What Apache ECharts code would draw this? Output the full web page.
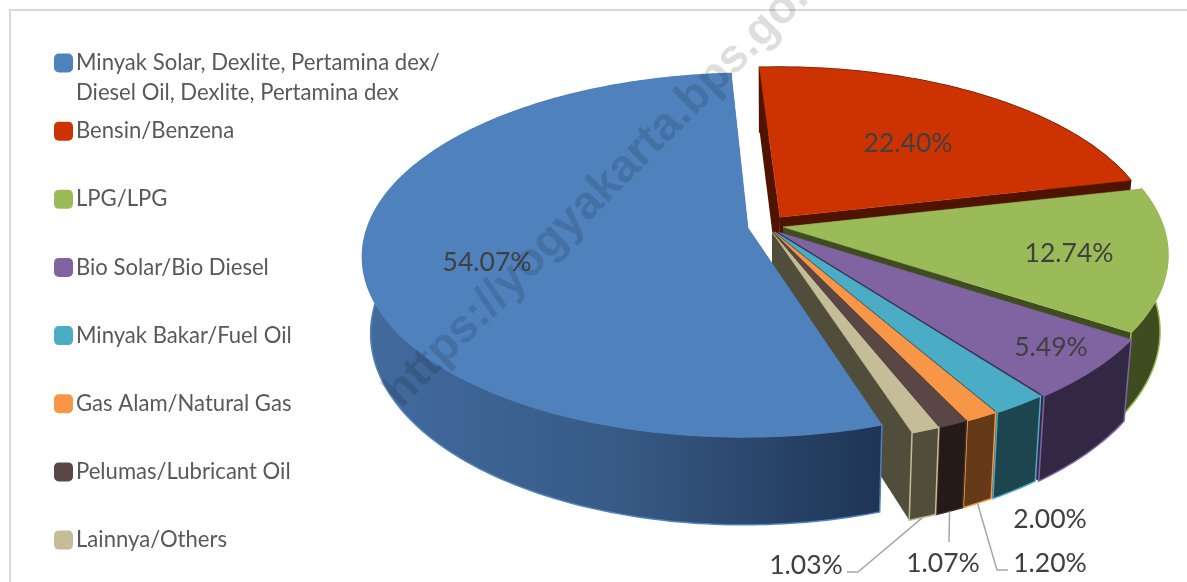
<!DOCTYPE html>
<html>
<head>
<meta charset="utf-8">
<style>html,body{margin:0;padding:0;background:#fff}#chart{width:1187px;height:582px}</style>
<script src="https://cdn.jsdelivr.net/npm/echarts@6/dist/echarts.min.js"></script>
</head>
<body>
<div id="chart"></div>
<script>
const categories = [
    'Minyak Solar, Dexlite, Pertamina dex/',
    'Bensin/Benzena',
    'LPG/LPG',
    'Bio Solar/Bio Diesel',
    'Minyak Bakar/Fuel Oil',
    'Gas Alam/Natural Gas',
    'Pelumas/Lubricant Oil',
    'Lainnya/Others'
];
const categoryLine2 = 'Diesel Oil, Dexlite, Pertamina dex';
const shares = [54.07, 22.40, 12.74, 5.49, 2.00, 1.20, 1.07, 1.03];

const topColors = ['#4f81bd', '#cc3300', '#9bbb59', '#8064a2', '#4bacc6', '#f79646', '#5a4644', '#c4bd97'];
const wallColors = ['#375a85', '#4f1400', '#3e4c20', '#332843', '#1d4550', '#643a18', '#251a18', '#504d3a'];
const edgeColors = ['#4f81bd', '#4f1400', '#9bbb59', '#8064a2', '#4bacc6', '#f79646', '#3a2c2a', '#c4bd97'];

// how far each slice is pulled out, in disc units, and its radius
const sliceShift = [[-0.063, -0.023], [0.021, -0.084], [0.029, -0.028], [0.016, 0], [0.008, 0], [0.004, 0], [0.002, 0], [0, 0]];
const sliceRadius = [1, 0.985, 1, 1.01, 1.01, 1.01, 1.01, 1.01];
// paint order: the front slices cover the walls of the ones behind
const sliceZ = [9, 2, 3, 4, 5, 6, 7, 8];
const labelPos = [[487, 262], [908, 143], [1069, 253], [1051, 347], [1050, 519], [1050, 563], [943, 563], [806, 565]];
const leaderTail = [null, null, null, null, null, [[997, 570], [1008, 570]], [[949, 542]], [[858, 572], [847, 572]]];

const cx = 772, cy = 232, radiusX = 382, radiusY = 179, persp = 0.15, depth = 75, floorScale = 0.98;
const firstAngle = 161.9;

const total = shares.reduce((a, b) => a + b, 0);

function project(i, deg) {
    const t = deg * Math.PI / 180;
    const u = Math.sin(t) * sliceRadius[i] + sliceShift[i][0];
    const v = -Math.cos(t) * sliceRadius[i] + sliceShift[i][1];
    return projectUV(u, v);
}
function projectUV(u, v) {
    const s = 1 / (1 - persp * v);
    const x = cx + radiusX * u * s;
    const y = cy + radiusY * v * s;
    // the floor of the pie sits further from the eye, so it is a bit narrower
    return { x: x, y: y, bx: cx + (x - cx) * floorScale, by: y + depth * s };
}

function renderSlice(i) {
    let a0 = firstAngle;
    for (let k = 0; k < i; k++) a0 += shares[k] / total * 360;
    const a1 = a0 + shares[i] / total * 360;
    const rim = [];
    for (let a = a0; a < a1; a += 1) rim.push(project(i, a));
    rim.push(project(i, a1));
    const tip = projectUV(sliceShift[i][0], sliceShift[i][1]);
    const first = rim[0], last = rim[rim.length - 1];

    const top = [[tip.x, tip.y]].concat(rim.map(p => [p.x, p.y]));
    const wall = rim.map(p => [p.x, p.y]).concat(rim.slice().reverse().map(p => [p.bx, p.by]));
    const side = (p) => [[tip.x, tip.y], [p.x, p.y], [p.bx, p.by], [tip.bx, tip.by]];

    const wallFill = i === 0
        ? new echarts.graphic.LinearGradient(0, 0, 1, 0, [
            { offset: 0, color: '#426b9e' },
            { offset: 0.5, color: '#375a85' },
            { offset: 1, color: '#1e3454' }
        ])
        : wallColors[i];

    const children = [
        { type: 'polygon', shape: { points: side(first) }, style: { fill: wallColors[i] } },
        { type: 'polygon', shape: { points: side(last) }, style: { fill: wallColors[i] } },
        { type: 'polygon', shape: { points: wall }, style: { fill: wallFill, stroke: edgeColors[i], lineWidth: 1.5 } },
        { type: 'polygon', shape: { points: top }, style: { fill: topColors[i], stroke: topColors[i], lineWidth: 0.5 } }
    ];

    if (leaderTail[i]) {
        const mid = project(i, (a0 + a1) / 2);
        children.push({
            type: 'polyline',
            shape: { points: [[mid.bx, mid.by]].concat(leaderTail[i]) },
            style: { fill: null, stroke: '#a6a6a6', lineWidth: 1.5 }
        });
    }
    children.push({
        type: 'text',
        style: {
            x: labelPos[i][0], y: labelPos[i][1],
            text: shares[i].toFixed(2) + '%',
            align: 'center', verticalAlign: 'middle',
            font: '26.5px Lato', fill: '#404040'
        }
    });
    return { type: 'group', children: children };
}

const myChart = echarts.init(document.getElementById('chart'));

const option = {
    animation: false,
    legend: {
        orient: 'vertical',
        left: 54,
        top: 49.5,
        itemWidth: 19,
        itemHeight: 19,
        itemGap: 41.15,
        icon: 'roundRect',
        selectedMode: false,
        data: categories,
        padding: 0,
        textStyle: { fontFamily: 'Lato', fontSize: 22.1, color: '#595959', padding: [0, 0, 0, -2], lineHeight: 27 }
    },
    graphic: [
        { type: 'polyline', z: 0, shape: { points: [[10, 582], [10, 10], [1187, 10]] }, style: { fill: null, stroke: '#d9d9d9', lineWidth: 2 } },
        { type: 'text', z: 20, x: 76, y: 93, style: { text: categoryLine2, font: '22.1px Lato', fill: '#595959', verticalAlign: 'middle' } },
        {
            type: 'text', z: 100, x: 392, y: 400, rotation: 45 * Math.PI / 180,
            style: { text: 'https://yogyakarta.bps.go.id', font: 'bold 46.5px "Liberation Sans"', fill: 'rgba(0,0,0,0.13)', verticalAlign: 'middle' }
        }
    ],
    series: categories.map((name, i) => ({
        type: 'custom',
        name: name,
        coordinateSystem: 'none',
        z: sliceZ[i],
        itemStyle: { color: topColors[i] },
        data: [shares[i]],
        renderItem: () => renderSlice(i)
    }))
};

myChart.setOption(option);
window.addEventListener('resize', myChart.resize);
</script>
</body>
</html>
